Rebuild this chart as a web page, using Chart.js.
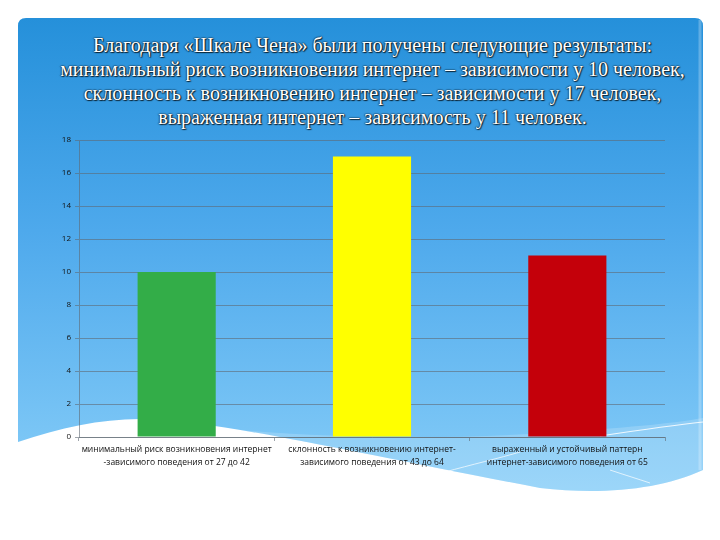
<!DOCTYPE html>
<html>
<head>
<meta charset="utf-8">
<script src="https://cdn.jsdelivr.net/npm/chart.js@4.4.1/dist/chart.umd.min.js"></script>
<style>
  html,body{margin:0;padding:0;background:#fff;}
  #wrap{position:relative;width:720px;height:540px;overflow:hidden;background:#fff;}
  #bg{position:absolute;left:0;top:0;}
  #title{position:absolute;left:30px;top:33px;width:685px;text-align:center;
    font-family:"Liberation Serif","DejaVu Serif",serif;font-size:20px;line-height:24px;
    color:#ffffff;text-shadow:0 0 1px #12202e,0 0 1px #12202e,0 0 2px rgba(0,0,0,0.6),1px 1px 1px rgba(0,0,0,0.7);}
  #c{position:absolute;left:0;top:0;}
</style>
</head>
<body>
<div id="wrap">
<svg id="bg" width="720" height="540" viewBox="0 0 720 540">
  <defs>
    <linearGradient id="g" x1="0" y1="0" x2="0" y2="1">
      <stop offset="0" stop-color="#2590da"/>
      <stop offset="0.45" stop-color="#4ea9ec"/>
      <stop offset="1" stop-color="#86cdf8"/>
    </linearGradient>
  </defs>
  <path d="M26 18 H695 Q703 18 703 26 V470 C660 490 600 495 540 488 C420 465 330 446 280 437 C230 428 180 419 140 419 C100 419 60 428 18 442 V26 Q18 18 26 18 Z" fill="url(#g)"/>
  <path d="M240 430 C330 438 450 440 560 432 C620 428 670 424 703 418 V470 C660 490 600 495 540 488 C420 465 330 446 280 437 Z" fill="rgba(255,255,255,0.18)"/>
  <path d="M600 436 C640 430 675 425 703 422" stroke="#ffffff" stroke-width="1.2" fill="none" opacity="0.85"/>
  <path d="M445 472 C470 465 500 458 520 452" stroke="#ffffff" stroke-width="1" fill="none" opacity="0.7"/>
  <path d="M610 470 C625 475 638 479 650 483" stroke="#ffffff" stroke-width="1" fill="none" opacity="0.7"/>
  <line x1="700" y1="20" x2="700" y2="470" stroke="rgba(255,255,255,0.25)" stroke-width="3"/>
</svg>
<div id="title">Благодаря «Шкале Чена» были получены следующие результаты:<br>минимальный риск возникновения интернет – зависимости у 10 человек,<br>склонность к возникновению интернет – зависимости у 17 человек,<br>выраженная интернет – зависимость у 11 человек.</div>
<canvas id="c" width="720" height="540"></canvas>
</div>
<script>
const categories = [
  ["минимальный риск возникновения интернет", "-зависимого поведения от 27 до 42"],
  ["склонность к возникновению интернет-", "зависимого поведения от 43 до 64"],
  ["выраженный и устойчивый паттерн", "интернет-зависимого поведения от 65"]
];
const values = [10, 17, 11];
const barColors = ["#33ad48", "#ffff00", "#c4000a"];
const yMin = 0, yMax = 18, yStep = 2;

const gridColor = "rgba(95,105,115,0.6)";
new Chart(document.getElementById("c"), {
  type: "bar",
  data: {
    labels: categories,
    datasets: [{
      data: values,
      backgroundColor: barColors,
      borderWidth: 0,
      barPercentage: 0.4,
      categoryPercentage: 1.0
    }]
  },
  options: {
    responsive: false,
    animation: false,
    devicePixelRatio: 1,
    layout: { padding: { top: 140, right: 55, left: 0, bottom: 0 } },
    plugins: { legend: { display: false }, title: { display: false }, tooltip: { enabled: false } },
    scales: {
      x: {
        offset: true,
        grid: { display: true, drawOnChartArea: false, drawTicks: true, tickLength: 4, color: gridColor, offset: true },
        border: { display: true, color: gridColor, width: 1 },
        ticks: { color: "#111", font: { family: "Open Sans", size: 8.5, lineHeight: 1.55 }, padding: 2, maxRotation: 0, autoSkip: false },
        afterFit: s => { s.height = 103; }
      },
      y: {
        min: yMin, max: yMax,
        grid: { color: gridColor, lineWidth: 1, tickLength: 4 },
        border: { display: true, color: gridColor, width: 1 },
        ticks: { stepSize: yStep, color: "#111", font: { family: "Open Sans", size: 8 }, padding: 4 },
        afterFit: s => { s.width = 79; }
      }
    }
  }
});
</script>
</body>
</html>
